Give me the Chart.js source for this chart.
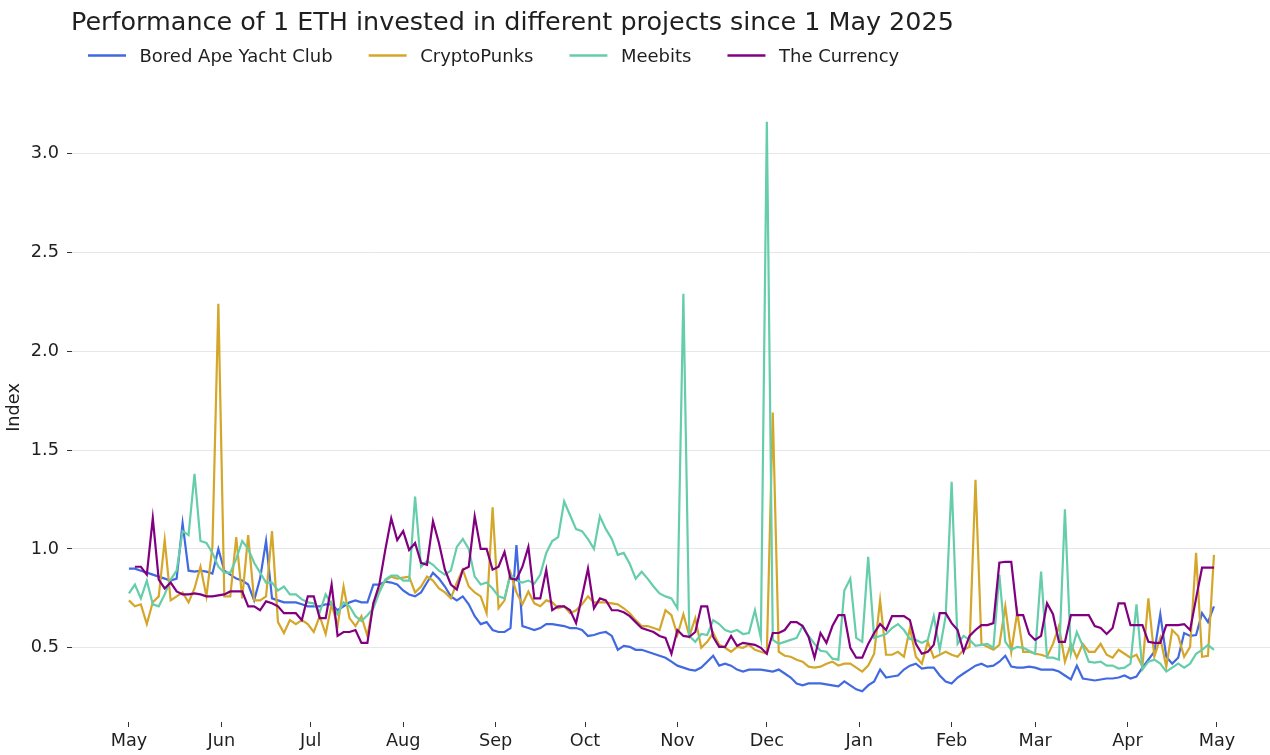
<!DOCTYPE html>
<html>
<head>
<meta charset="utf-8">
<script src="https://cdn.jsdelivr.net/npm/chart.js@4.4.1/dist/chart.umd.min.js"></script>
<style>
html,body{margin:0;padding:0;background:#fff;}
#wrap{width:1270px;height:755px;}
</style>
</head>
<body>
<div id="wrap"><canvas id="c" width="1270" height="755"></canvas></div>
<script>
// ---------- data ----------
const chartTitle = 'Performance of 1 ETH invested in different projects since 1 May 2025';
const yAxisLabel = 'Index';
const seriesNames = ['Bored Ape Yacht Club', 'CryptoPunks', 'Meebits', 'The Currency'];
const seriesColors = ['#4169E1', '#D4A62A', '#66CDAA', '#800080'];
const startDate = '2025-05-01';
const stepDays = 2;
const monthTickDates = ['2025-05-01','2025-06-01','2025-07-01','2025-08-01','2025-09-01','2025-10-01','2025-11-01','2025-12-01','2026-01-01','2026-02-01','2026-03-01','2026-04-01','2026-05-01'];
const monthTickLabels = ['May','Jun','Jul','Aug','Sep','Oct','Nov','Dec','Jan','Feb','Mar','Apr','May'];
const yTickValues = [0.5, 1.0, 1.5, 2.0, 2.5, 3.0];

const boredApe = [
  0.90, 0.90, 0.89, 0.88, 0.87, 0.86, 0.85, 0.84, 0.85, 1.13,
  0.89, 0.885, 0.89, 0.885, 0.875, 1.00, 0.89, 0.87, 0.85, 0.84,
  0.82, 0.74, 0.85, 1.04, 0.75, 0.74, 0.73, 0.73, 0.73, 0.72,
  0.71, 0.71, 0.71, 0.72, 0.72, 0.69, 0.71, 0.73, 0.74, 0.73,
  0.73, 0.82, 0.82, 0.835, 0.83, 0.82, 0.79, 0.77, 0.76, 0.78,
  0.83, 0.88, 0.85, 0.81, 0.76, 0.74, 0.76, 0.72, 0.66, 0.62,
  0.63, 0.59, 0.58, 0.58, 0.60, 1.02, 0.61, 0.60, 0.59, 0.60,
  0.62, 0.62, 0.615, 0.61, 0.60, 0.60, 0.59, 0.56, 0.565, 0.575,
  0.58, 0.56, 0.49, 0.51, 0.505, 0.49, 0.49, 0.48, 0.47, 0.46,
  0.45, 0.43, 0.41, 0.40, 0.39, 0.385, 0.40, 0.43, 0.46, 0.41,
  0.42, 0.41, 0.39, 0.38, 0.39, 0.39, 0.39, 0.385, 0.38, 0.39,
  0.37, 0.35, 0.32, 0.31, 0.32, 0.32, 0.32, 0.315, 0.31, 0.305,
  0.33, 0.31, 0.29, 0.28, 0.31, 0.33, 0.39, 0.35, 0.355, 0.36,
  0.39, 0.41, 0.42, 0.395, 0.40, 0.40, 0.36, 0.33, 0.32, 0.35,
  0.37, 0.39, 0.41, 0.42, 0.405, 0.41, 0.43, 0.46, 0.405, 0.40,
  0.40, 0.405, 0.40, 0.39, 0.39, 0.39, 0.38, 0.36, 0.34, 0.41,
  0.345, 0.34, 0.335, 0.34, 0.345, 0.345, 0.35, 0.36, 0.345, 0.355,
  0.40, 0.44, 0.48, 0.67, 0.455, 0.42, 0.45, 0.575, 0.56, 0.565,
  0.675, 0.63, 0.71
];

const cryptoPunks = [
  0.74, 0.71, 0.72, 0.62, 0.73, 0.76, 1.045, 0.74, 0.76, 0.78,
  0.73, 0.80, 0.91, 0.76, 1.01, 2.24, 0.76, 0.76, 1.06, 0.75,
  1.07, 0.74, 0.74, 0.76, 1.09, 0.63, 0.575, 0.64, 0.62, 0.64,
  0.62, 0.58, 0.66, 0.57, 0.72, 0.61, 0.81, 0.65, 0.61, 0.66,
  0.56, 0.725, 0.79, 0.84, 0.86, 0.85, 0.855, 0.86, 0.78, 0.81,
  0.86, 0.84, 0.80, 0.78, 0.75, 0.83, 0.895, 0.81, 0.78, 0.76,
  0.675, 1.21, 0.70, 0.74, 0.88, 0.78, 0.72, 0.785, 0.725, 0.71,
  0.74, 0.73, 0.70, 0.71, 0.675, 0.69, 0.72, 0.76, 0.73, 0.73,
  0.73, 0.725, 0.72, 0.70, 0.675, 0.64, 0.61, 0.61, 0.60, 0.59,
  0.69, 0.665, 0.565, 0.67, 0.56, 0.65, 0.50, 0.53, 0.575, 0.515,
  0.50, 0.48, 0.505, 0.50, 0.515, 0.49, 0.48, 0.47, 1.69, 0.48,
  0.46, 0.455, 0.44, 0.43, 0.405, 0.40, 0.405, 0.42, 0.43, 0.41,
  0.42, 0.42, 0.40, 0.38, 0.41, 0.47, 0.74, 0.465, 0.465, 0.48,
  0.455, 0.60, 0.455, 0.42, 0.53, 0.45, 0.465, 0.48, 0.465, 0.455,
  0.49, 0.505, 1.35, 0.52, 0.505, 0.49, 0.515, 0.71, 0.48, 0.68,
  0.48, 0.48, 0.47, 0.465, 0.455, 0.52, 0.61, 0.43, 0.52, 0.45,
  0.52, 0.48, 0.48, 0.52, 0.465, 0.45, 0.49, 0.47, 0.45, 0.465,
  0.405, 0.75, 0.455, 0.55, 0.405, 0.59, 0.56, 0.455, 0.505, 0.98,
  0.455, 0.46, 0.97
];

const meebits = [
  0.775, 0.82, 0.75, 0.84, 0.72, 0.71, 0.77, 0.845, 0.89, 1.09,
  1.07, 1.38, 1.04, 1.03, 0.98, 0.91, 0.88, 0.88, 0.95, 1.04,
  1.00, 0.93, 0.88, 0.83, 0.83, 0.79, 0.81, 0.77, 0.77, 0.745,
  0.73, 0.725, 0.68, 0.77, 0.72, 0.67, 0.73, 0.71, 0.66, 0.635,
  0.665, 0.70, 0.78, 0.845, 0.865, 0.865, 0.84, 0.84, 1.265, 0.91,
  0.94, 0.92, 0.89, 0.87, 0.89, 1.01, 1.05, 1.00, 0.86, 0.82,
  0.83, 0.80, 0.76, 0.75, 0.87, 0.84, 0.83, 0.84, 0.825, 0.87,
  0.98, 1.04, 1.06, 1.24, 1.17, 1.10, 1.09, 1.05, 1.00, 1.165,
  1.10, 1.05, 0.97, 0.98, 0.925, 0.85, 0.885, 0.85, 0.81, 0.775,
  0.76, 0.75, 0.70, 2.29, 0.56, 0.53, 0.57, 0.565, 0.64, 0.62,
  0.59, 0.58, 0.59, 0.57, 0.575, 0.69, 0.55, 3.16, 0.54, 0.52,
  0.53, 0.54, 0.55, 0.61, 0.56, 0.52, 0.485, 0.48, 0.445, 0.44,
  0.79, 0.85, 0.55, 0.53, 0.96, 0.55, 0.56, 0.57, 0.60, 0.62,
  0.59, 0.545, 0.54, 0.525, 0.54, 0.66, 0.49, 0.66, 1.34, 0.52,
  0.56, 0.54, 0.51, 0.515, 0.52, 0.50, 0.87, 0.53, 0.49, 0.505,
  0.50, 0.485, 0.47, 0.885, 0.45, 0.45, 0.44, 1.20, 0.47, 0.58,
  0.51, 0.43, 0.425, 0.43, 0.41, 0.41, 0.395, 0.40, 0.42, 0.72,
  0.39, 0.43, 0.44, 0.42, 0.38, 0.40, 0.42, 0.40, 0.42, 0.47,
  0.49, 0.515, 0.49
];

const theCurrency = [
  null, 0.91, 0.91, 0.87, 1.155, 0.845, 0.80, 0.83, 0.785, 0.77,
  0.77, 0.775, 0.77, 0.76, 0.76, 0.765, 0.77, 0.785, 0.785, 0.785,
  0.71, 0.71, 0.69, 0.735, 0.725, 0.71, 0.675, 0.675, 0.675, 0.64,
  0.76, 0.76, 0.65, 0.65, 0.82, 0.56, 0.58, 0.58, 0.59, 0.525,
  0.525, 0.725, 0.82, 0.995, 1.155, 1.045, 1.09, 0.995, 1.03, 0.93,
  0.92, 1.14, 1.03, 0.895, 0.82, 0.795, 0.895, 0.91, 1.165, 1.00,
  1.00, 0.895, 0.91, 0.985, 0.85, 0.845, 0.91, 1.01, 0.75, 0.75,
  0.895, 0.69, 0.71, 0.71, 0.69, 0.625, 0.76, 0.90, 0.70, 0.75,
  0.74, 0.69, 0.69, 0.68, 0.66, 0.63, 0.60, 0.59, 0.58, 0.56,
  0.55, 0.47, 0.59, 0.56, 0.555, 0.58, 0.71, 0.71, 0.555, 0.505,
  0.505, 0.56, 0.51, 0.525, 0.52, 0.515, 0.50, 0.47, 0.575, 0.575,
  0.59, 0.63, 0.63, 0.61, 0.555, 0.45, 0.575, 0.525, 0.61, 0.665,
  0.665, 0.50, 0.45, 0.45, 0.52, 0.575, 0.62, 0.59, 0.66, 0.66,
  0.66, 0.64, 0.52, 0.47, 0.48, 0.515, 0.675, 0.675, 0.625, 0.59,
  0.48, 0.56, 0.59, 0.615, 0.615, 0.625, 0.93, 0.935, 0.935, 0.665,
  0.665, 0.57, 0.54, 0.56, 0.725, 0.67, 0.53, 0.53, 0.665, 0.665,
  0.665, 0.665, 0.61, 0.60, 0.57, 0.60, 0.725, 0.725, 0.615, 0.615,
  0.615, 0.53, 0.525, 0.525, 0.615, 0.615, 0.615, 0.62, 0.59, 0.75,
  0.905, 0.905, 0.905
];

// ---------- build ----------
const FONT = 'DejaVu Sans';
const TEXT = '#1f1f1f';
Chart.defaults.font.family = FONT;

const dayMs = 86400000;
const t0 = Date.parse(startDate + 'T00:00:00Z');
const monthTickDays = monthTickDates.map(d => Math.round((Date.parse(d + 'T00:00:00Z') - t0) / dayMs));
const toPoints = arr => arr.map((v, i) => ({ x: i * stepDays, y: v }));
const seriesValues = [boredApe, cryptoPunks, meebits, theCurrency];

const datasets = seriesValues.map((arr, i) => ({
  label: seriesNames[i],
  data: toPoints(arr),
  borderColor: seriesColors[i],
  backgroundColor: seriesColors[i],
  borderWidth: 2.2,
  pointRadius: 0,
  tension: 0,
  fill: false,
  spanGaps: false,
  order: seriesValues.length - 1 - i
}));

const headerPlugin = {
  id: 'header',
  afterDraw(chart) {
    const ctx = chart.ctx;
    ctx.save();
    ctx.fillStyle = TEXT;
    ctx.textAlign = 'left';
    ctx.textBaseline = 'alphabetic';
    ctx.font = '25.45px "' + FONT + '"';
    ctx.fillText(chartTitle, 71, 30);
    ctx.font = '18px "' + FONT + '"';
    let x = 88;
    seriesNames.forEach((name, i) => {
      ctx.strokeStyle = seriesColors[i];
      ctx.lineWidth = 2.6;
      ctx.beginPath();
      ctx.moveTo(x, 55.5);
      ctx.lineTo(x + 38, 55.5);
      ctx.stroke();
      ctx.fillText(name, x + 51.5, 62);
      x += 51.5 + ctx.measureText(name).width + 36;
    });
    ctx.restore();
  }
};

new Chart(document.getElementById('c'), {
  type: 'line',
  data: { datasets },
  options: {
    responsive: false,
    animation: false,
    devicePixelRatio: 1,
    layout: { padding: { top: 93, left: 0, right: 0, bottom: 0 } },
    plugins: {
      legend: { display: false },
      title: { display: false },
      tooltip: { enabled: false }
    },
    scales: {
      x: {
        type: 'linear',
        min: -19.1,
        max: 382.8,
        afterBuildTicks: s => { s.ticks = monthTickDays.map(v => ({ value: v })); },
        afterFit: s => { s.height = 33; },
        ticks: {
          autoSkip: false,
          maxRotation: 0,
          padding: 4,
          color: TEXT,
          font: { family: FONT, size: 17.7 },
          callback: (v, i) => monthTickLabels[i]
        },
        grid: { drawOnChartArea: false, drawTicks: true, tickLength: 5, color: '#333', tickColor: '#333', lineWidth: 1 },
        border: { display: false }
      },
      y: {
        type: 'linear',
        min: 0.125,
        max: 3.305,
        afterBuildTicks: s => { s.ticks = yTickValues.map(v => ({ value: v })); },
        afterFit: s => { s.width = 72; },
        ticks: {
          padding: 8,
          color: TEXT,
          font: { family: FONT, size: 17.7 },
          callback: v => Number(v).toFixed(1)
        },
        grid: { color: '#e6e6e6', tickColor: '#333', tickLength: 5, lineWidth: 1 },
        border: { display: false },
        title: {
          display: true,
          text: yAxisLabel,
          color: TEXT,
          font: { family: FONT, size: 17.7 },
          padding: { top: 4, bottom: 0 }
        }
      }
    }
  },
  plugins: [headerPlugin]
});
</script>
</body>
</html>
